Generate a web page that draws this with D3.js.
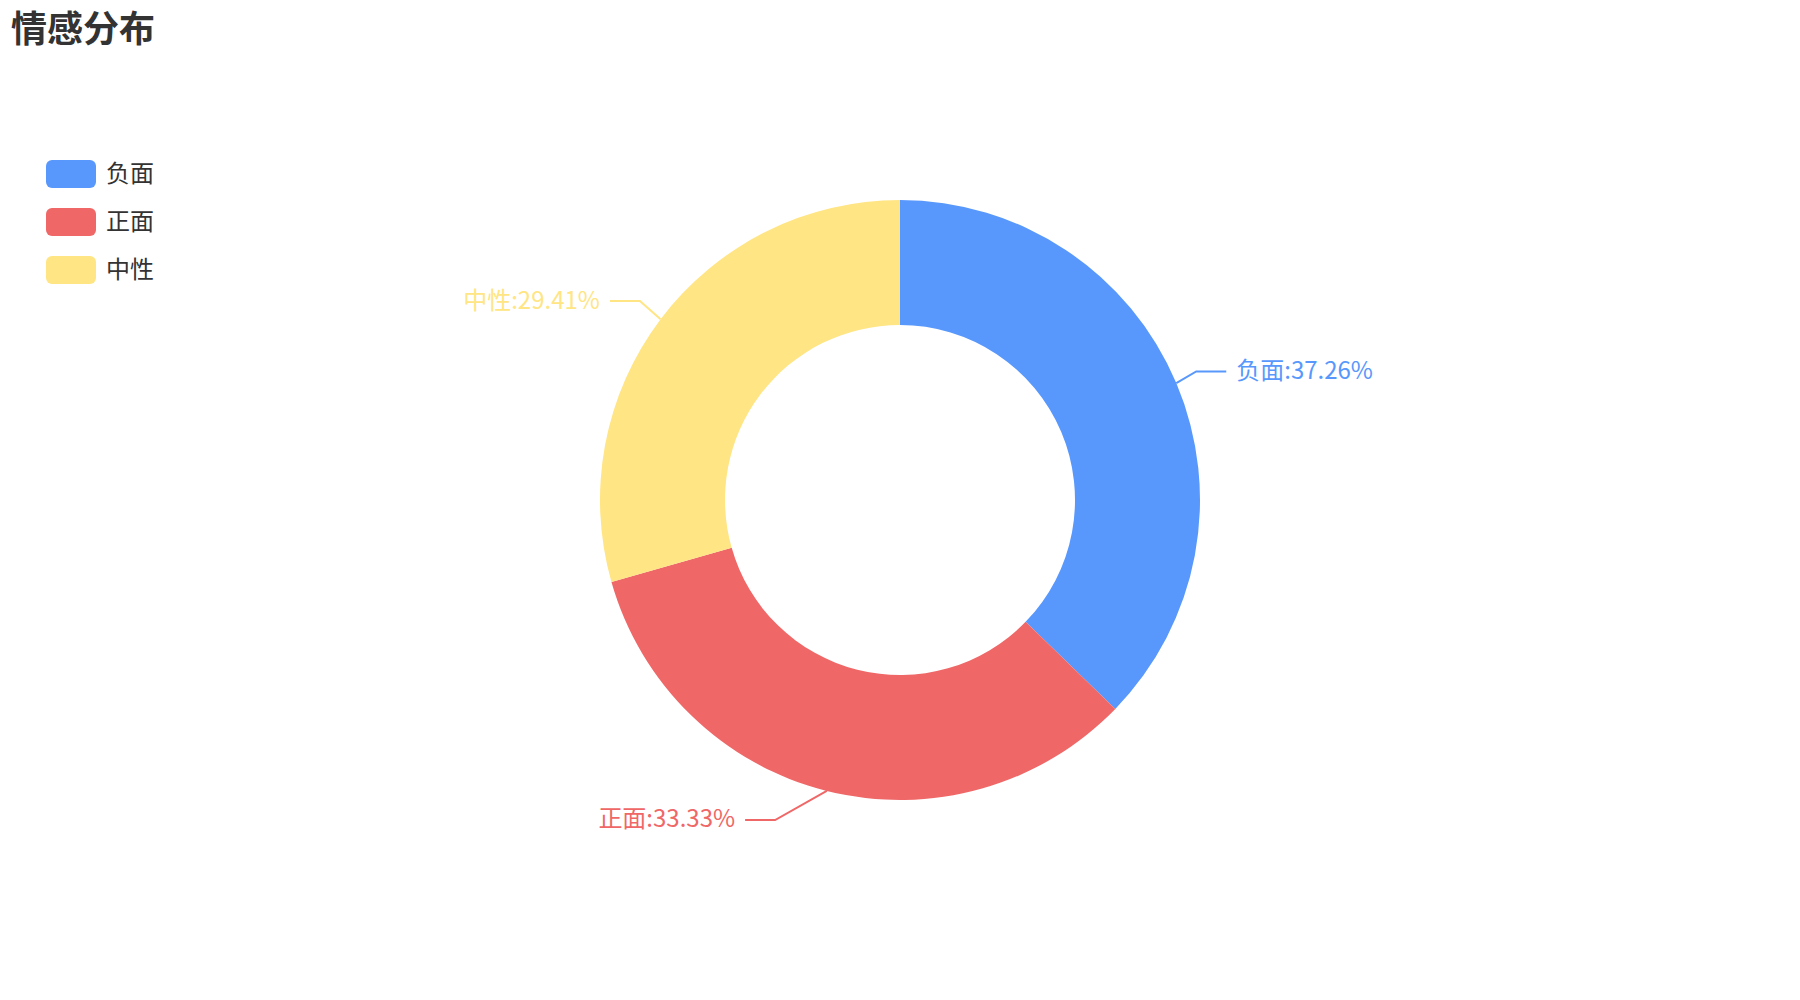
<!DOCTYPE html>
<html>
<head>
<meta charset="utf-8">
<script src="https://cdn.jsdelivr.net/npm/d3@7/dist/d3.min.js"></script>
<style>
  html, body { margin: 0; padding: 0; background: #fff; }
  svg { display: block; font-family: "Noto Sans CJK SC", "Noto Sans", sans-serif; }
</style>
</head>
<body>
<svg width="1800" height="1000"></svg>
<script>
// Data
const categories = ["负面", "正面", "中性"];
const values = [37.26, 33.33, 29.41];
const colors = ["#5898fc", "#ef6767", "#ffe584"];

const svg = d3.select("svg");
const width = +svg.attr("width");
const height = +svg.attr("height");
const cx = width / 2, cy = height / 2;
const outerR = Math.min(width, height) / 2 * 0.6;
const innerR = Math.min(width, height) / 2 * 0.35;

// Title
svg.append("text")
  .attr("x", 11)
  .attr("y", 42)
  .attr("font-size", 36)
  .attr("font-weight", "bold")
  .attr("fill", "#333")
  .text("情感分布");

// Legend
const legend = svg.append("g").attr("transform", "translate(46, 160)");
const item = legend.selectAll("g")
  .data(categories)
  .join("g")
  .attr("transform", (d, i) => `translate(0, ${i * 48})`);

item.append("rect")
  .attr("width", 50)
  .attr("height", 28)
  .attr("rx", 6)
  .attr("fill", (d, i) => colors[i]);

item.append("text")
  .attr("x", 60)
  .attr("y", 14)
  .attr("dy", "-0.1em")
  .attr("dominant-baseline", "central")
  .attr("font-size", 24)
  .attr("fill", "#333")
  .text(d => d);

// Pie
const pie = d3.pie().sort(null).value(d => d);
const arcs = pie(values);
const arc = d3.arc().innerRadius(innerR).outerRadius(outerR);

const g = svg.append("g").attr("transform", `translate(${cx}, ${cy})`);

g.selectAll("path.slice")
  .data(arcs)
  .join("path")
  .attr("class", "slice")
  .attr("d", arc)
  .attr("fill", (d, i) => colors[i]);

// Label lines: radial first segment, then horizontal, labels on a circle
const len = 30, len2 = 30, gap = 10;
const labels = arcs.map((d, i) => {
  const a = (d.startAngle + d.endAngle) / 2;
  const ux = Math.sin(a), uy = -Math.cos(a);
  const dir = ux < 0 ? -1 : 1;
  const y = (outerR + len) * uy;
  const R = outerR + len + len2;
  const tx = dir * Math.sqrt(R * R - y * y);
  const endX = tx - dir * gap;
  const elbowX = endX - dir * len2;
  return {
    i, dir, tx, y,
    points: [[outerR * ux, outerR * uy], [elbowX, y], [endX, y]]
  };
});

g.selectAll("path.label-line")
  .data(labels)
  .join("path")
  .attr("class", "label-line")
  .attr("d", d => d3.line()(d.points))
  .attr("fill", "none")
  .attr("stroke", d => colors[d.i])
  .attr("stroke-width", 2);

g.selectAll("text.label")
  .data(labels)
  .join("text")
  .attr("class", "label")
  .attr("x", d => d.tx)
  .attr("y", d => d.y)
  .attr("dy", "-0.13em")
  .attr("dominant-baseline", "central")
  .attr("text-anchor", d => d.dir < 0 ? "end" : "start")
  .attr("font-size", 24)
  .attr("fill", d => colors[d.i])
  .text(d => `${categories[d.i]}:${values[d.i].toFixed(2)}%`);
</script>
</body>
</html>
